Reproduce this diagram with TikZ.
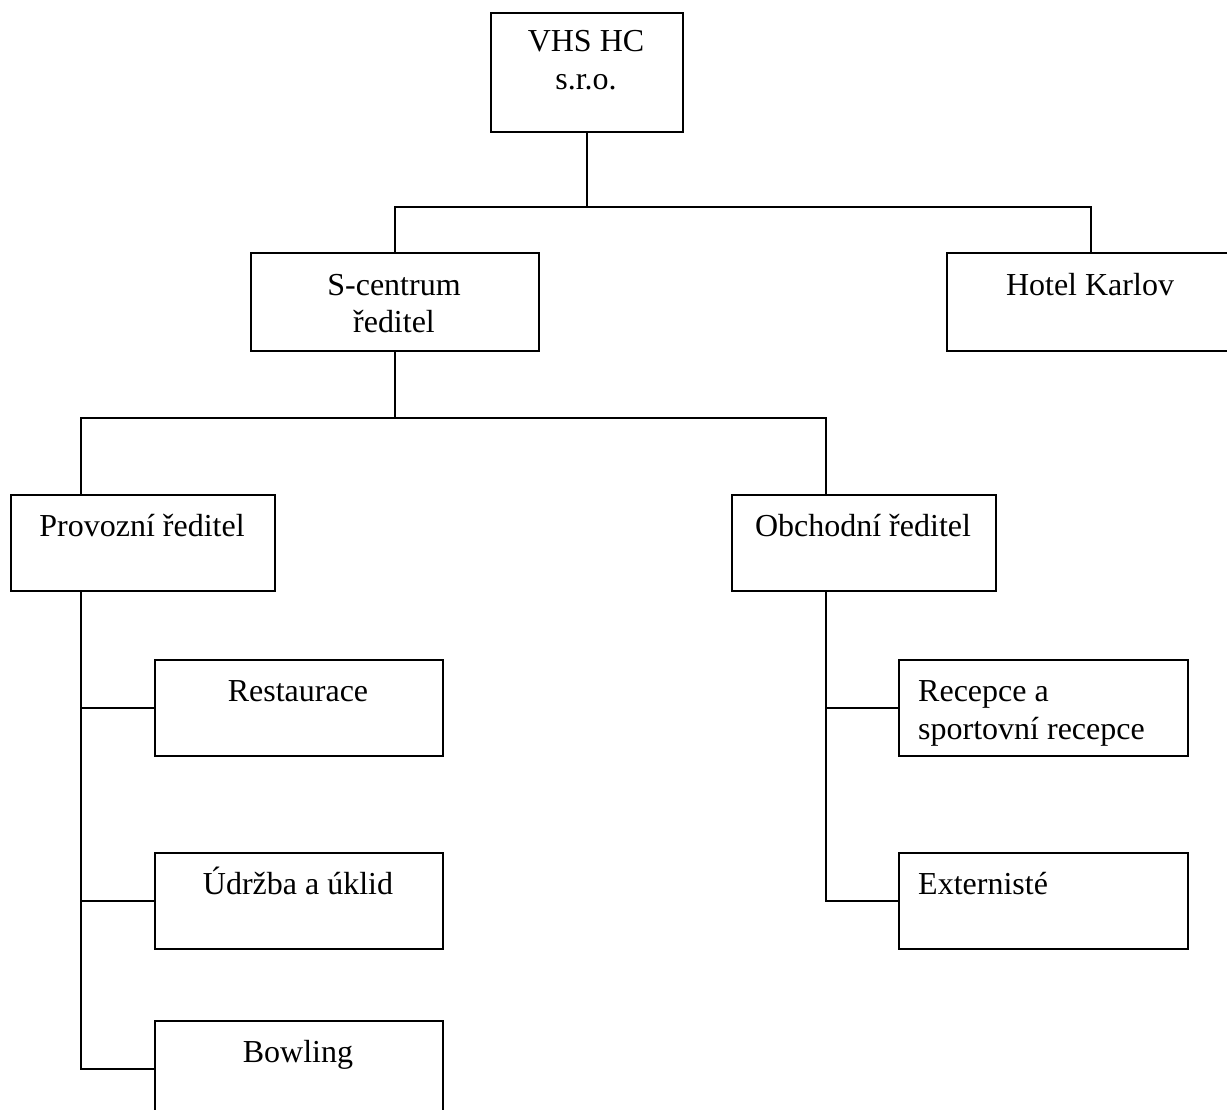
\documentclass[tikz,border=0pt]{standalone}
\usepackage{fontspec}
\setmainfont{Liberation Serif}
\begin{document}
\begin{tikzpicture}[x=1pt,y=-1pt,
  box/.style={draw, line width=2pt, rectangle, inner sep=0pt, anchor=north west, minimum width=288pt, minimum height=96pt},
  txt/.style={font=\fontsize{32}{38}\selectfont, inner sep=0pt, anchor=base, align=center},
  ltxt/.style={font=\fontsize{32}{38}\selectfont, inner sep=0pt, anchor=base west, align=left},
  conn/.style={line width=1.8pt}]
\useasboundingbox (0,0) rectangle (1227,1110);
\clip (0,0) rectangle (1227,1110);
% boxes
\node[box, minimum width=192pt, minimum height=119pt] (vhs) at (490,12) {};
\node[box, minimum height=98pt] (scentrum) at (250,252) {};
\node[box, minimum height=98pt] (hotel) at (946,252) {};
\node[box, minimum width=264pt] (provozni) at (10,494) {};
\node[box, minimum width=264pt] (obchodni) at (731,494) {};
\node[box] (restaurace) at (154,659) {};
\node[box] (udrzba) at (154,852) {};
\node[box] (bowling) at (154,1020) {};
\node[box, minimum width=289pt] (recepce) at (898,659) {};
\node[box, minimum width=289pt] (externiste) at (898,852) {};
% texts (base anchor = last line)
\node[txt] (vhsT) at (586,90) {VHS HC\\s.r.o.};
\node[txt] (scentrumT) at (394,333) {S-centrum\\ředitel};
\node[txt] (hotelT) at (1090,295) {Hotel Karlov};
\node[txt] (provozniT) at (142,536) {Provozní ředitel};
\node[txt] (obchodniT) at (863,536) {Obchodní ředitel};
\node[txt] (restauraceT) at (298,701) {Restaurace};
\node[txt] (udrzbaT) at (298,894) {Údržba a úklid};
\node[txt] (bowlingT) at (298,1062) {Bowling};
\node[ltxt] (recepceT) at (918,739) {Recepce a\\sportovní recepce};
\node[ltxt] (externisteT) at (918,894) {Externisté};
% connector helpers
\coordinate (h1) at (0,207);
\coordinate (h2) at (0,418);
\coordinate (j1) at (vhs.south |- h1);
\coordinate (j2) at (scentrum.south |- h2);
\coordinate (pt) at (81,0);
\coordinate (ot) at (826,0);
% connectors
\draw[conn] (vhs.south) -- (j1);
\draw[conn] (scentrum.north) |- (j1) -| (hotel.north);
\draw[conn] (scentrum.south) -- (j2);
\draw[conn] (provozni.north -| pt) |- (j2) -| (obchodni.north -| ot);
\draw[conn] (provozni.south -| pt) -- (bowling.west -| pt) -- (bowling.west);
\draw[conn] (restaurace.west -| pt) -- (restaurace.west);
\draw[conn] (udrzba.west -| pt) -- (udrzba.west);
\draw[conn] (obchodni.south -| ot) -- (externiste.west -| ot) -- (externiste.west);
\draw[conn] (recepce.west -| ot) -- (recepce.west);
\end{tikzpicture}
\end{document}
